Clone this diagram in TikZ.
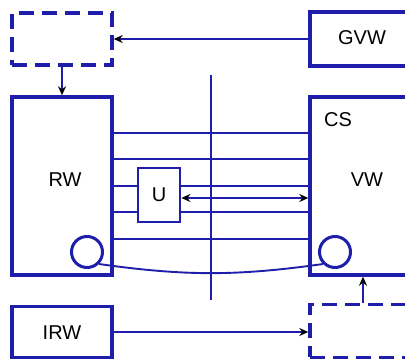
\documentclass[tikz,border=0pt]{standalone}
\usepackage{fontspec}
\setmainfont{Liberation Sans}
\usetikzlibrary{arrows.meta,positioning}
\definecolor{wire}{HTML}{1E1EAA}
\tikzset{
  font=\fontsize{20}{24}\selectfont,
  box/.style={draw=wire, line width=3.4pt, minimum width=100pt, inner sep=0pt},
  ghost/.style={box, dash pattern=on 15pt off 8pt},
  port/.style={circle, draw=wire, line width=3pt, minimum size=31pt, inner sep=0pt},
  bus/.style={draw=wire, line width=1.9pt},
  flow/.style={bus, -{Stealth[black, length=9pt, width=8pt]}},
  both/.style={bus, {Stealth[black, length=9pt, width=8pt]}-{Stealth[black, length=9pt, width=8pt]}}
}
\begin{document}
\begin{tikzpicture}[x=1pt,y=-1pt]
  \clip (0,0) rectangle (405,363);

  % outer boxes
  \node[ghost, minimum height=52pt]  (top) at (62,39)   {};
  \node[box,   minimum height=54pt, minimum width=102pt] (gvw) at (361,39) {};
  \node[box,   minimum height=178pt] (rw)  at (62,186)  {};
  \node[box,   minimum height=178pt, minimum width=102pt] (cs) at (361,186) {};
  \node[box,   minimum height=51pt]  (irw) at (62,332)  {};
  \node[ghost, minimum height=53pt, minimum width=102pt] (bot) at (361,331) {};
  \node[box, minimum width=42pt, minimum height=54pt, line width=2.8pt] (u) at (159,195) {U};

  % labels
  \node at (362,38)  {GVW};
  \node at (65,180)  {RW};
  \node at (338,120) {CS};
  \node at (367,180) {VW};
  \node at (62,333)  {IRW};

  % ports
  \node[port] (rwp) at (87,252) {};
  \node[port] (vwp) at (335,252) {};

  % divider
  \coordinate (dt) at (211,75);
  \coordinate (db) at (211,300);
  \draw[bus] (dt) -- (db);

  % buses
  \foreach \y in {133,159,239}
    \draw[bus] (rw.east |- 0,\y) -- (cs.west |- 0,\y);
  \foreach \y in {186,212}{
    \draw[bus] (rw.east |- 0,\y) -- (u.west |- 0,\y);
    \draw[bus] (u.east |- 0,\y) -- (cs.west |- 0,\y);
  }
  \draw[both] (u.east |- 0,198) -- (cs.west |- 0,198);
  \draw[bus] (rwp.-45) to[out=-8,in=188] (vwp.-135);

  % arrows
  \draw[flow] (gvw.west |- top.east) -- (top.east);
  \draw[flow] (top.south) -- (rw.north);
  \draw[flow] (irw.east) -- (bot.west |- irw.east);
  \draw[flow] (bot.north -| 363,0) -- (cs.south -| 363,0);
\end{tikzpicture}
\end{document}
